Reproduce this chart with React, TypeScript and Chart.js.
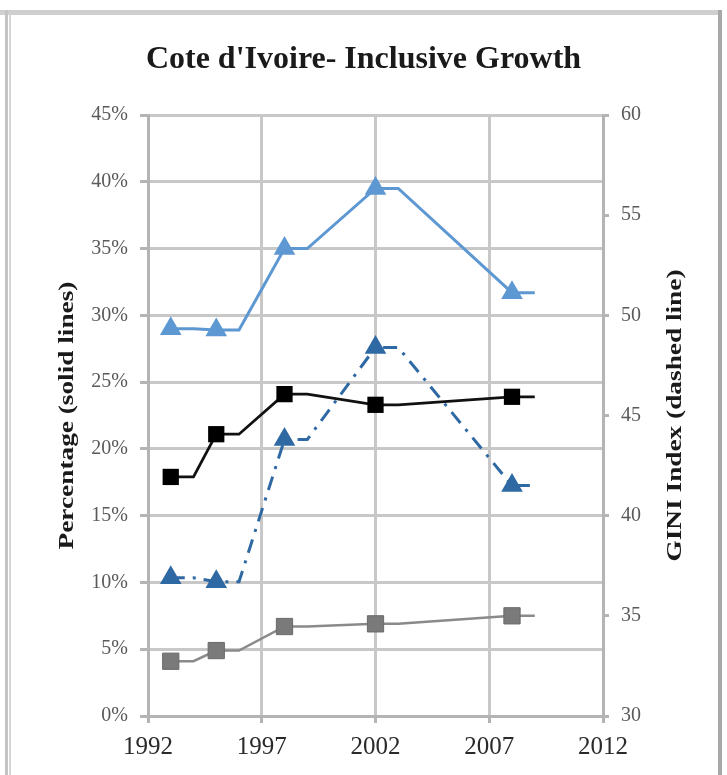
import React, { useEffect, useRef } from "react";
import { Chart, registerables } from "chart.js";

Chart.register(...registerables);

// ---- data ----
const surveyYears = [1993, 1995, 1998, 2002, 2008];
const lightBlueShare = [29.0, 28.9, 35.0, 39.5, 31.7]; // % (solid, light blue, triangles)
const blackShare = [17.9, 21.1, 24.1, 23.3, 23.9]; // % (solid, black, squares)
const grayShare = [4.1, 4.9, 6.7, 6.9, 7.5]; // % (solid, gray, squares)
const giniIndex = [36.9, 36.7, 43.8, 48.4, 41.5]; // GINI (dashed, dark blue, triangles)
const holdYears = 1; // each survey value is held for one year in the source chart

const xTicks = [1992, 1997, 2002, 2007, 2012];
const leftTicks = [0, 5, 10, 15, 20, 25, 30, 35, 40, 45];
const rightTicks = [30, 35, 40, 45, 50, 55, 60];

const titleText = "Cote d'Ivoire- Inclusive Growth";
const leftAxisTitle = "Percentage (solid lines)";
const rightAxisTitle = "GINI Index (dashed line)";

const SERIF = '"Liberation Serif", "Times New Roman", serif';

function heldPoints(values: number[]) {
  const pts: { x: number; y: number }[] = [];
  surveyYears.forEach((yr, i) => {
    pts.push({ x: yr, y: values[i] });
    pts.push({ x: yr + holdYears, y: values[i] });
  });
  return pts;
}

const markerRadius = (r: number) => (ctx: any) => (ctx.dataIndex % 2 === 0 ? r : 0);

const axisTitlesPlugin = {
  id: "axisTitles",
  afterDraw(chart: any) {
    const { ctx, chartArea } = chart;
    const cy = (chartArea.top + chartArea.bottom) / 2;
    const draw = (x: number, text: string) => {
      ctx.save();
      ctx.translate(x, cy);
      ctx.rotate(-Math.PI / 2);
      ctx.scale(1.3, 1);
      ctx.font = `bold 21px ${SERIF}`;
      ctx.fillStyle = "#1a1a1a";
      ctx.textAlign = "center";
      ctx.textBaseline = "middle";
      ctx.fillText(text, 0, 0);
      ctx.restore();
    };
    draw(68, leftAxisTitle);
    draw(676, rightAxisTitle);
  },
};

export default function App() {
  const canvasRef = useRef<HTMLCanvasElement | null>(null);

  useEffect(() => {
    if (!canvasRef.current) return;
    const gridColor = "#c8c8c8";
    const axisColor = "#b4b4b4";
    const chart = new Chart(canvasRef.current, {
      type: "line",
      data: {
        datasets: [
          {
            label: "GINI Index",
            data: heldPoints(giniIndex),
            yAxisID: "yRight",
            borderColor: "#2f69a3",
            backgroundColor: "#2f69a3",
            borderWidth: 3,
            borderDash: [14, 8, 3, 8],
            pointStyle: "triangle",
            pointRadius: markerRadius(12.5),
            pointBorderWidth: 0,
            pointBackgroundColor: "#2f69a3",
            tension: 0,
          },
          {
            label: "Gray",
            data: heldPoints(grayShare),
            yAxisID: "yLeft",
            borderColor: "#8a8a8a",
            backgroundColor: "#777777",
            borderWidth: 2.5,
            pointStyle: "rect",
            pointRadius: markerRadius(11.5),
            pointBorderWidth: 1,
            pointBorderColor: "#6a6a6a",
            pointBackgroundColor: "#7a7a7a",
            tension: 0,
          },
          {
            label: "Black",
            data: heldPoints(blackShare),
            yAxisID: "yLeft",
            borderColor: "#111111",
            backgroundColor: "#000000",
            borderWidth: 2.8,
            pointStyle: "rect",
            pointRadius: markerRadius(11.5),
            pointBorderWidth: 0,
            pointBackgroundColor: "#000000",
            tension: 0,
          },
          {
            label: "Light blue",
            data: heldPoints(lightBlueShare),
            yAxisID: "yLeft",
            borderColor: "#5e98d2",
            backgroundColor: "#5e98d2",
            borderWidth: 3,
            pointStyle: "triangle",
            pointRadius: markerRadius(12.5),
            pointBorderWidth: 0,
            pointBackgroundColor: "#5e98d2",
            tension: 0,
          },
        ],
      },
      options: {
        animation: false,
        responsive: false,
        maintainAspectRatio: false,
        layout: { padding: 0 },
        plugins: {
          legend: { display: false },
          tooltip: { enabled: false },
          title: {
            display: true,
            text: titleText,
            color: "#1a1a1a",
            font: { family: SERIF, size: 32, weight: "bold", lineHeight: 1.2 },
            padding: { top: 41, bottom: 35.6 },
          },
        },
        scales: {
          x: {
            type: "linear",
            min: 1992,
            max: 2012,
            afterBuildTicks: (axis: any) => {
              axis.ticks = xTicks.map((v) => ({ value: v }));
            },
            afterFit: (axis: any) => {
              axis.height = 59;
            },
            ticks: {
              color: "#2a2a2a",
              font: { family: SERIF, size: 25 },
              padding: 9,
              maxRotation: 0,
              callback: (v: any) => String(v),
            },
            grid: { color: gridColor, lineWidth: 3, tickLength: 7, tickColor: axisColor },
            border: { color: axisColor, width: 3 },
          },
          yLeft: {
            type: "linear",
            position: "left",
            min: 0,
            max: 45,
            afterBuildTicks: (axis: any) => {
              axis.ticks = leftTicks.map((v) => ({ value: v }));
            },
            afterFit: (axis: any) => {
              axis.width = 148;
            },
            ticks: {
              color: "#5a5a5a",
              font: { family: SERIF, size: 20 },
              padding: 12,
              callback: (v: any) => `${v}%`,
            },
            grid: { color: gridColor, lineWidth: 3, tickLength: 8, tickColor: axisColor },
            border: { color: axisColor, width: 3 },
          },
          yRight: {
            type: "linear",
            position: "right",
            min: 30,
            max: 60,
            afterBuildTicks: (axis: any) => {
              axis.ticks = rightTicks.map((v) => ({ value: v }));
            },
            afterFit: (axis: any) => {
              axis.width = 124;
            },
            ticks: {
              color: "#5a5a5a",
              font: { family: SERIF, size: 20 },
              padding: 12,
            },
            grid: { drawOnChartArea: false, tickLength: 6, tickColor: axisColor, lineWidth: 3 },
            border: { color: axisColor, width: 3 },
          },
        },
      },
      plugins: [axisTitlesPlugin],
    } as any);
    return () => chart.destroy();
  }, []);

  return (
    <div
      style={{
        position: "absolute",
        left: 0,
        top: 0,
        width: 727,
        height: 775,
        background: "#ffffff",
        overflow: "hidden",
      }}
    >
      <div style={{ position: "absolute", left: 0, top: 10, width: 722, height: 5, background: "#cfcfcf" }} />
      <div style={{ position: "absolute", left: 5, top: 10, width: 3, height: 765, background: "#c4c4c4" }} />
      <div style={{ position: "absolute", left: 9, top: 14, width: 2, height: 761, background: "#d6d6d6" }} />
      <div style={{ position: "absolute", left: 718, top: 10, width: 4, height: 765, background: "#a8a8a8" }} />
      <canvas ref={canvasRef} width={727} height={775} style={{ position: "absolute", left: 0, top: 0 }} />
    </div>
  );
}
